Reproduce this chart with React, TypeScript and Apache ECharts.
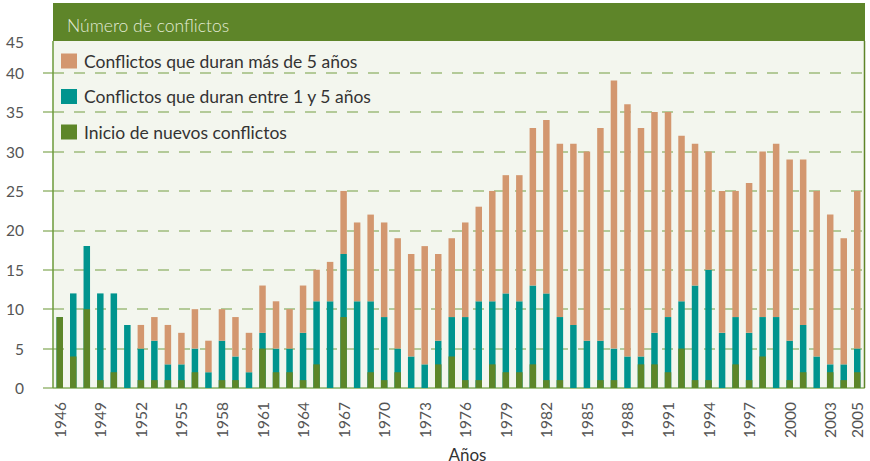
import React, { useEffect, useRef } from "react";
import * as echarts from "echarts";

const years = [
  "1946", "1947", "1948", "1949", "1950", "1951", "1952", "1953", "1954", "1955",
  "1956", "1957", "1958", "1959", "1960", "1961", "1962", "1963", "1964", "1965",
  "1966", "1967", "1968", "1969", "1970", "1971", "1972", "1973", "1974", "1975",
  "1976", "1977", "1978", "1979", "1980", "1981", "1982", "1983", "1984", "1985",
  "1986", "1987", "1988", "1989", "1990", "1991", "1992", "1993", "1994", "1995",
  "1996", "1997", "1998", "1999", "2000", "2001", "2002", "2003", "2004", "2005",
];

// Conflictos que duran entre 1 y 5 años
const shortConflicts = [
  9, 12, 18, 12, 12, 8, 5, 6, 3, 3,
  5, 2, 6, 4, 2, 7, 5, 5, 7, 11,
  11, 17, 11, 11, 9, 5, 4, 3, 6, 9,
  9, 11, 11, 12, 11, 13, 12, 9, 8, 6,
  6, 5, 4, 4, 7, 9, 11, 13, 15, 7,
  9, 7, 9, 9, 6, 8, 4, 3, 3, 5,
];

// Conflictos que duran más de 5 años
const longConflicts = [
  0, 0, 0, 0, 0, 0, 3, 3, 5, 4,
  5, 4, 4, 5, 5, 6, 6, 5, 6, 4,
  5, 8, 10, 11, 12, 14, 13, 15, 11, 10,
  12, 12, 14, 15, 16, 20, 22, 22, 23, 24,
  27, 34, 32, 29, 28, 26, 21, 18, 15, 18,
  16, 19, 21, 22, 23, 21, 21, 19, 16, 20,
];

// Inicio de nuevos conflictos
const newConflicts = [
  9, 4, 10, 1, 2, 0, 1, 1, 1, 1,
  2, 0, 1, 1, 0, 5, 2, 2, 1, 3,
  0, 9, 0, 2, 1, 2, 0, 0, 3, 4,
  1, 1, 3, 2, 2, 3, 1, 1, 0, 0,
  1, 1, 0, 3, 3, 2, 5, 1, 1, 0,
  3, 1, 4, 0, 1, 2, 0, 2, 1, 2,
];

const NAME_LONG = "Conflictos que duran más de 5 años";
const NAME_SHORT = "Conflictos que duran entre 1 y 5 años";
const NAME_NEW = "Inicio de nuevos conflictos";

const C_TAN = "#d3976f";
const C_TEAL = "#00948e";
const C_GREEN = "#5d8628";
const C_HEADER = "#5e8529";
const C_GRID = "#b3ca98";
const FONT = "Lato";

export default function App() {
  const ref = useRef<HTMLDivElement>(null);

  useEffect(() => {
    if (!ref.current) return;
    const chart = echarts.init(ref.current, null, { renderer: "svg", width: 870, height: 461 });
    const option: any = {
      animation: false,
      textStyle: { fontFamily: FONT },
      grid: {
        left: 53,
        top: 72.7,
        width: 811,
        height: 315.3,
        containLabel: false,
        outerBoundsMode: "none",
      },
      legend: {
        orient: "vertical",
        left: 61,
        top: 52,
        padding: 0,
        icon: "rect",
        itemWidth: 16,
        itemHeight: 15,
        itemGap: 17.5,
        data: [NAME_LONG, NAME_SHORT, NAME_NEW],
        textStyle: { fontFamily: FONT, fontSize: 17.5, color: "#333", lineHeight: 18, padding: [0, 0, 0, 2] },
        selectedMode: false,
      },
      xAxis: {
        type: "category",
        data: years,
        boundaryGap: true,
        axisLine: { lineStyle: { color: "#a3c284", width: 2 } },
        axisTick: { interval: 0, length: 6, lineStyle: { color: "#a3c284", width: 1.5 } },
        axisLabel: {
          interval: (i: number) => i % 3 === 0 || i === years.length - 1,
          rotate: 90,
          margin: 14,
          fontSize: 15.5,
          fontFamily: FONT,
          color: "#555",
          padding: [8, 0, 0, 0],
        },
        name: "Años",
        nameLocation: "middle",
        nameGap: 51,
        nameTextStyle: { fontSize: 17, lineHeight: 17, fontFamily: FONT, color: "#333", padding: [0, 0, 0, 18] },
      },
      yAxis: {
        type: "value",
        min: 0,
        max: 40,
        interval: 5,
        axisLine: { show: false },
        axisTick: { show: true, length: 10, lineStyle: { color: C_GRID, width: 2 } },
        axisLabel: { margin: 29, fontSize: 15.5, fontFamily: FONT, color: "#555" },
        splitLine: { lineStyle: { type: [11, 10], color: C_GRID, width: 2 } },
      },
      series: [
        { name: NAME_SHORT, type: "bar", stack: "total", data: shortConflicts, barWidth: 6.5, itemStyle: { color: C_TEAL } },
        { name: NAME_LONG, type: "bar", stack: "total", data: longConflicts, barWidth: 6.5, itemStyle: { color: C_TAN } },
        { name: NAME_NEW, type: "bar", data: newConflicts, barWidth: 6.5, barGap: "-100%", itemStyle: { color: C_GREEN }, z: 3 },
      ],
      graphic: [
        { type: "rect", z: -1, silent: true, shape: { x: 53, y: 41, width: 811, height: 347 }, style: { fill: "#f3f6ee" } },
        { type: "rect", z: 10, silent: true, shape: { x: 53, y: 3, width: 812, height: 38 }, style: { fill: C_HEADER } },
        {
          type: "text", z: 11, silent: true, x: 67, y: 25,
          style: { text: "Número de conflictos", fontFamily: FONT, fontSize: 17.5, fontWeight: 300, fill: "#e3ebd6", verticalAlign: "middle" },
        },
        {
          type: "text", z: 11, silent: true, x: 24, y: 42,
          style: { text: "45", fontFamily: FONT, fontSize: 15.5, fill: "#555", align: "right", verticalAlign: "middle" },
        },
        { type: "line", z: 10, silent: true, shape: { x1: 53, y1: 41, x2: 53, y2: 388 }, style: { stroke: "#6b9a3a", lineWidth: 1.5 } },
        { type: "line", z: 10, silent: true, shape: { x1: 864.5, y1: 41, x2: 864.5, y2: 388 }, style: { stroke: C_HEADER, lineWidth: 1.5 } },
      ],
    };
    chart.setOption(option);
    return () => chart.dispose();
  }, []);

  return <div ref={ref} style={{ position: "absolute", left: 0, top: 0, width: 870, height: 461 }} />;
}
